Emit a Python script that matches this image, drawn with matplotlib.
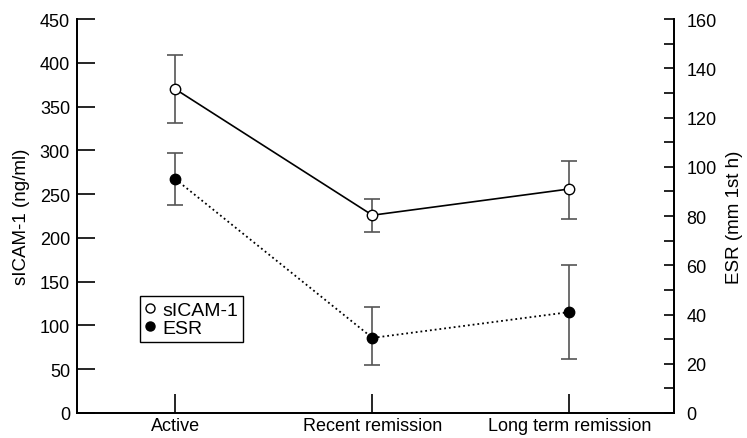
import numpy as np
import matplotlib.pyplot as plt

plt.rcParams['font.family'] = ['Liberation Sans', 'DejaVu Sans']
plt.rcParams['font.size'] = 13

# data
groups = ['Active', 'Recent remission', 'Long term remission']
icam_mean = [370, 226, 256]
icam_low = [331, 207, 222]
icam_high = [409, 244, 288]
esr_mean = [95, 30.5, 41]
esr_low = [84.5, 19.5, 22]
esr_high = [105.5, 43, 60]

x = np.arange(len(groups))

fig = plt.figure(figsize=(7.47, 4.39), dpi=100)
ax = fig.add_axes([0.103, 0.057, 0.799, 0.897])
ax2 = ax.twinx()

err_kw = dict(ecolor='#555555', elinewidth=1.2, capsize=6, capthick=1.2)

icam_err = [np.array(icam_mean) - np.array(icam_low), np.array(icam_high) - np.array(icam_mean)]
esr_err = [np.array(esr_mean) - np.array(esr_low), np.array(esr_high) - np.array(esr_mean)]

ax.errorbar(x, icam_mean, yerr=icam_err, fmt='none', zorder=2, **err_kw)
ax.plot(x, icam_mean, '-', color='black', lw=1.2, marker='o', ms=7.5,
        mfc='white', mec='black', mew=1.0, zorder=3, label='sICAM-1')

ax2.errorbar(x, esr_mean, yerr=esr_err, fmt='none', zorder=2, **err_kw)
ax2.plot(x, esr_mean, ':', color='black', lw=1.3, marker='o', ms=7.5,
         mfc='black', mec='black', zorder=3, label='ESR')

ax.set_xlim(-0.5, 2.53)
ax.set_ylim(0, 450)
ax2.set_ylim(0, 160)
ax.set_yticks(np.arange(0, 451, 50))
ax2.set_yticks(np.arange(0, 161, 20))
ax2.set_yticks(np.arange(10, 160, 20), minor=True)
ax.set_xticks(x)
ax.set_xticklabels(groups)

ax.tick_params(axis='y', direction='in', length=13, width=1.2, pad=5)
ax.tick_params(axis='x', direction='in', length=14, width=1.2, pad=3)
ax2.tick_params(axis='y', which='major', direction='in', length=7, width=1.2, pad=9)
ax2.tick_params(axis='y', which='minor', direction='in', length=7, width=1.2)

for a in (ax, ax2):
    a.spines['top'].set_visible(False)
    for s in ('left', 'right', 'bottom'):
        a.spines[s].set_linewidth(1.3)

ax.set_ylabel('sICAM-1 (ng/ml)', fontsize=13.5, labelpad=7)
ax2.set_ylabel('ESR (mm 1st h)', fontsize=13.5, rotation=90, labelpad=7)

h1, l1 = ax.get_legend_handles_labels()
h2, l2 = ax2.get_legend_handles_labels()
leg = ax2.legend(h1 + h2, l1 + l2, loc='lower left', bbox_to_anchor=(0.105, 0.18),
                 fancybox=False, edgecolor='black', framealpha=1, handlelength=0.6,
                 handletextpad=0.3, borderpad=0.25, labelspacing=0.05,
                 fontsize=14, borderaxespad=0)
leg.get_frame().set_linewidth(1.0)
for h in leg.legend_handles:
    h.set_linestyle('none')
    h.set_markersize(6.5)

fig.savefig('out.png', dpi=100)
